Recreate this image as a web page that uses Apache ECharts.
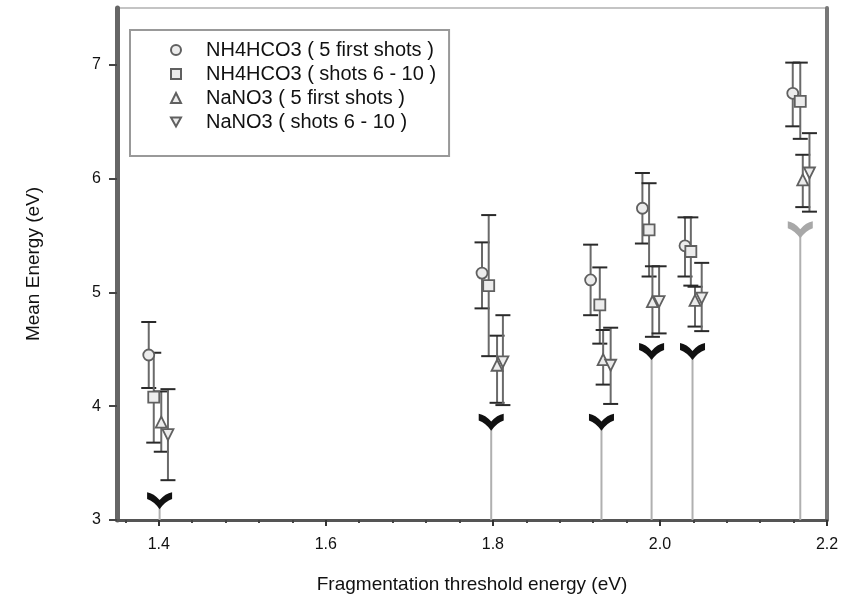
<!DOCTYPE html>
<html>
<head>
<meta charset="utf-8">
<script src="https://cdn.jsdelivr.net/npm/echarts@6/dist/echarts.min.js"></script>
<style>
  html, body { margin: 0; padding: 0; background: #fff; }
  #main { width: 843px; height: 602px; }
</style>
</head>
<body>
<div id="main"></div>
<script>
// values
const xTicks = [1.4, 1.6, 1.8, 2.0, 2.2];
const xMinorTicks = [1.36, 1.44, 1.48, 1.52, 1.56, 1.64, 1.68, 1.72, 1.76, 1.84, 1.88, 1.92, 1.96, 2.04, 2.08, 2.12, 2.16];
const yTicks = [3, 4, 5, 6, 7];

const circleX = [1.388, 1.787, 1.917, 1.979, 2.030, 2.159];
const circleY = [4.45, 5.17, 5.11, 5.74, 5.41, 6.75];
const circleLow = [4.16, 4.86, 4.80, 5.43, 5.14, 6.46];
const circleHigh = [4.74, 5.44, 5.42, 6.05, 5.66, 7.02];

const squareX = [1.394, 1.795, 1.928, 1.987, 2.037, 2.168];
const squareY = [4.08, 5.06, 4.89, 5.55, 5.36, 6.68];
const squareLow = [3.68, 4.44, 4.55, 5.14, 5.06, 6.35];
const squareHigh = [4.47, 5.68, 5.22, 5.96, 5.66, 7.02];

const upX = [1.403, 1.805, 1.932, 1.991, 2.042, 2.171];
const upY = [3.86, 4.36, 4.41, 4.92, 4.93, 5.99];
const upLow = [3.60, 4.03, 4.19, 4.61, 4.70, 5.75];
const upHigh = [4.13, 4.62, 4.67, 5.23, 5.05, 6.21];

const downX = [1.411, 1.812, 1.941, 1.999, 2.050, 2.179];
const downY = [3.75, 4.39, 4.36, 4.92, 4.95, 6.05];
const downLow = [3.35, 4.01, 4.02, 4.64, 4.66, 5.71];
const downHigh = [4.15, 4.80, 4.69, 5.23, 5.26, 6.40];

// threshold markers (chevrons) and their drop lines
const markX = [1.401, 1.798, 1.930, 1.990, 2.039, 2.168];
const markY = [3.17, 3.86, 3.86, 4.48, 4.48, 5.55];

const names = [
  'NH4HCO3 ( 5 first shots )',
  'NH4HCO3 ( shots 6 - 10 )',
  'NaNO3 ( 5 first shots )',
  'NaNO3 ( shots 6 - 10 )'
];

const FONT = 'Liberation Sans, Arial, sans-serif';
const X_MIN = 1.35, X_MAX = 2.2, Y_MIN = 3, Y_MAX = 7.5;
const DOWN_TRI = 'path://M0,0 L10,0 L5,9 Z';

var myChart = echarts.init(document.getElementById('main'));

function pts(xs, ys) { return xs.map((x, i) => [x, ys[i]]); }
function errs(xs, lo, hi) { return xs.map((x, i) => [x, lo[i], hi[i]]); }

function renderErr(params, api) {
  const x = api.value(0);
  const lo = api.coord([x, api.value(1)]);
  const hi = api.coord([x, api.value(2)]);
  const w = 7.5;
  return {
    type: 'group',
    children: [
      { type: 'line', shape: { x1: lo[0], y1: lo[1], x2: hi[0], y2: hi[1] }, style: { stroke: '#6a6a6a', lineWidth: 2 } },
      { type: 'line', shape: { x1: hi[0] - w, y1: hi[1], x2: hi[0] + w, y2: hi[1] }, style: { stroke: '#2a2a2a', lineWidth: 2 } },
      { type: 'line', shape: { x1: lo[0] - w, y1: lo[1], x2: lo[0] + w, y2: lo[1] }, style: { stroke: '#2a2a2a', lineWidth: 2 } }
    ]
  };
}

function renderDrop(params, api) {
  const x = api.value(0);
  const top = api.coord([x, api.value(1)]);
  const bot = api.coord([x, Y_MIN]);
  return { type: 'line', shape: { x1: bot[0], y1: bot[1], x2: top[0], y2: top[1] }, style: { stroke: '#b0b0b0', lineWidth: 2 } };
}

function errSeries(data) {
  return { type: 'custom', renderItem: renderErr, data: data, encode: { x: 0, y: [1, 2] }, z: 3, silent: true };
}

function markerSeries(name, symbol, data) {
  return {
    name: name, type: 'scatter', data: data, symbol: symbol, symbolSize: 11, z: 4,
    itemStyle: { color: '#ececec', borderColor: '#606060', borderWidth: 1.8, opacity: 1 }
  };
}

const option = {
  animation: false,
  backgroundColor: '#fff',
  grid: { left: 117, right: 16, top: 8, bottom: 82, show: true, borderColor: '#c4c4c4', borderWidth: 2 },
  legend: {
    data: [
      { name: names[0] },
      { name: names[1] },
      { name: names[2] },
      { name: names[3], icon: DOWN_TRI }
    ],
    orient: 'vertical',
    left: 130, top: 30,
    padding: [10, 13, 24, 40],
    itemWidth: 10, itemHeight: 10, itemGap: 4,
    borderColor: '#999', borderWidth: 2,
    backgroundColor: '#fff',
    textStyle: { fontFamily: FONT, fontSize: 20, lineHeight: 20, color: '#111', padding: [0, 0, 0, 20] }
  },
  xAxis: [
    {
      type: 'value', min: X_MIN, max: X_MAX,
      name: 'Fragmentation threshold energy (eV)', nameLocation: 'middle', nameGap: 55,
      nameTextStyle: { fontFamily: FONT, fontSize: 19, color: '#111' },
      axisLine: { show: true, onZero: false, lineStyle: { color: '#555', width: 3 } },
      axisTick: { show: true, customValues: xTicks, length: 6, lineStyle: { color: '#333', width: 2 } },
      axisLabel: { customValues: xTicks, formatter: v => v.toFixed(1), margin: 17, fontFamily: FONT, fontSize: 16, color: '#111' },
      splitLine: { show: false }
    },
    {
      type: 'value', min: X_MIN, max: X_MAX, position: 'bottom',
      axisLine: { show: false },
      axisTick: { show: true, customValues: xMinorTicks, length: 3, lineStyle: { color: '#444', width: 2 } },
      axisLabel: { show: false },
      splitLine: { show: false }
    }
  ],
  yAxis: [
    {
      type: 'value', min: Y_MIN, max: Y_MAX,
      name: 'Mean Energy (eV)', nameLocation: 'middle', nameGap: 74,
      nameTextStyle: { fontFamily: FONT, fontSize: 19, color: '#111' },
      axisLine: { show: true, onZero: false, lineStyle: { color: '#666', width: 5 } },
      axisTick: { show: true, customValues: yTicks, length: 8, lineStyle: { color: '#444', width: 2 } },
      axisLabel: { customValues: yTicks, margin: 16, fontFamily: FONT, fontSize: 16, color: '#111' },
      splitLine: { show: false }
    },
    {
      type: 'value', min: Y_MIN, max: Y_MAX, position: 'right',
      axisLine: { show: true, onZero: false, lineStyle: { color: '#777', width: 4 } },
      axisTick: { show: false }, axisLabel: { show: false }, splitLine: { show: false }
    }
  ],
  series: [
    {
      type: 'custom', renderItem: renderDrop, data: pts(markX, markY), encode: { x: 0, y: 1 }, z: 1, silent: true
    },
    {
      type: 'scatter', data: pts(markX, markY), z: 2, silent: true,
      symbol: 'path://M0,0 Q6,1 11,7 Q16,1 22,0 L22,6 Q16,8 11,15 Q6,8 0,6 Z',
      symbolSize: [25, 17],
      itemStyle: { color: p => p.dataIndex === 5 ? '#a8a8a8' : '#111', opacity: 1 }
    },
    errSeries(errs(circleX, circleLow, circleHigh)),
    errSeries(errs(squareX, squareLow, squareHigh)),
    errSeries(errs(upX, upLow, upHigh)),
    errSeries(errs(downX, downLow, downHigh)),
    markerSeries(names[0], 'circle', pts(circleX, circleY)),
    markerSeries(names[1], 'rect', pts(squareX, squareY)),
    markerSeries(names[2], 'triangle', pts(upX, upY)),
    markerSeries(names[3], DOWN_TRI, pts(downX, downY))
  ]
};

myChart.setOption(option);
</script>
</body>
</html>
